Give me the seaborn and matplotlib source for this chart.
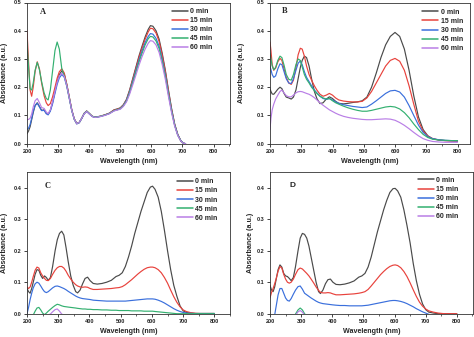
import numpy as np
import pandas as pd
import matplotlib
matplotlib.use("Agg")
import matplotlib.pyplot as plt
from matplotlib.ticker import MultipleLocator
import seaborn as sns

# ---------------- data ----------------
times = ["0 min", "15 min", "30 min", "45 min", "60 min"]
colors = ["#4a4a4a", "#e8423c", "#3a6fdc", "#33b070", "#b97ee6"]

# Panel A
wl_a = [200, 205, 210, 215, 220, 226, 233, 240, 247, 255, 262, 268, 275, 282, 290, 297, 304, 312, 320, 328,
        336, 344, 352, 360, 368, 376, 384, 392, 400, 410, 420, 435, 450, 465, 480, 490, 500, 510, 520, 530,
        540, 550, 560, 570, 580, 590, 597, 605, 615, 625, 635, 645, 655, 665, 675, 685, 695, 703, 710]
a_0 = [0.035, 0.045, 0.06, 0.085, 0.11, 0.135, 0.145, 0.132, 0.118, 0.12, 0.108, 0.104, 0.118, 0.145, 0.185,
       0.22, 0.245, 0.258, 0.245, 0.21, 0.165, 0.12, 0.088, 0.072, 0.075, 0.09, 0.108, 0.116, 0.108, 0.097,
       0.094, 0.097, 0.102, 0.108, 0.12, 0.123, 0.127, 0.138, 0.157, 0.19, 0.23, 0.27, 0.31, 0.345, 0.378,
       0.405, 0.418, 0.416, 0.4, 0.37, 0.32, 0.26, 0.19, 0.125, 0.07, 0.033, 0.01, 0.002, 0.0]
a_15 = [0.40, 0.29, 0.19, 0.168, 0.2, 0.255, 0.29, 0.265, 0.215, 0.17, 0.145, 0.135, 0.142, 0.165, 0.2,
        0.232, 0.255, 0.265, 0.25, 0.21, 0.165, 0.12, 0.088, 0.071, 0.075, 0.09, 0.107, 0.115, 0.107, 0.097,
        0.094, 0.097, 0.102, 0.108, 0.119, 0.122, 0.126, 0.137, 0.155, 0.187, 0.226, 0.265, 0.304, 0.338,
        0.37, 0.396, 0.409, 0.407, 0.392, 0.362, 0.313, 0.255, 0.186, 0.122, 0.068, 0.032, 0.01, 0.002, 0.0]
a_30 = [0.05, 0.055, 0.068, 0.09, 0.115, 0.135, 0.143, 0.13, 0.117, 0.118, 0.106, 0.102, 0.115, 0.14, 0.178,
        0.21, 0.233, 0.245, 0.235, 0.203, 0.16, 0.117, 0.086, 0.07, 0.074, 0.089, 0.106, 0.114, 0.106, 0.096,
        0.093, 0.096, 0.101, 0.107, 0.117, 0.12, 0.124, 0.135, 0.153, 0.183, 0.22, 0.258, 0.295, 0.328,
        0.358, 0.38, 0.39, 0.388, 0.373, 0.345, 0.299, 0.243, 0.178, 0.117, 0.066, 0.031, 0.01, 0.002, 0.0]
a_45 = [0.36, 0.27, 0.195, 0.19, 0.215, 0.26, 0.288, 0.262, 0.22, 0.18, 0.16, 0.155, 0.19, 0.255, 0.33,
        0.36, 0.335, 0.265, 0.24, 0.205, 0.162, 0.118, 0.087, 0.071, 0.075, 0.09, 0.107, 0.115, 0.107, 0.097,
        0.094, 0.097, 0.101, 0.107, 0.117, 0.12, 0.124, 0.134, 0.151, 0.18, 0.216, 0.252, 0.288, 0.32,
        0.35, 0.372, 0.38, 0.378, 0.364, 0.337, 0.292, 0.238, 0.175, 0.115, 0.065, 0.03, 0.01, 0.002, 0.0]
a_60 = [0.085, 0.086, 0.09, 0.105, 0.13, 0.152, 0.16, 0.145, 0.128, 0.125, 0.112, 0.106, 0.12, 0.148, 0.186,
        0.218, 0.24, 0.25, 0.238, 0.205, 0.162, 0.118, 0.087, 0.071, 0.075, 0.09, 0.106, 0.114, 0.106, 0.096,
        0.093, 0.096, 0.1, 0.106, 0.116, 0.119, 0.122, 0.132, 0.148, 0.175, 0.208, 0.242, 0.277, 0.308,
        0.335, 0.356, 0.365, 0.363, 0.35, 0.323, 0.28, 0.228, 0.167, 0.11, 0.062, 0.029, 0.009, 0.002, 0.0]

# Panel B
wl_b = [200, 203, 207, 212, 218, 225, 232, 238, 245, 252, 260, 268, 275, 283, 290, 297, 303, 310, 317, 325,
        333, 342, 350, 360, 370, 380, 390, 400, 410, 420, 435, 450, 465, 480, 495, 510, 525, 540, 555, 570,
        585, 600, 615, 630, 645, 660, 675, 690, 705, 720, 740, 760, 780, 800]
b_0 = [0.195, 0.185, 0.176, 0.175, 0.183, 0.193, 0.2, 0.195, 0.178, 0.165, 0.162, 0.158, 0.165, 0.19, 0.23,
       0.27, 0.295, 0.31, 0.305, 0.275, 0.23, 0.185, 0.16, 0.142, 0.145, 0.158, 0.166, 0.16, 0.15, 0.143,
       0.141, 0.143, 0.146, 0.148, 0.152, 0.165, 0.2, 0.25, 0.305, 0.35, 0.38, 0.394, 0.38, 0.335, 0.26,
       0.17, 0.095, 0.05, 0.028, 0.018, 0.013, 0.011, 0.01, 0.009]
b_15 = [0.36, 0.33, 0.28, 0.26, 0.268, 0.29, 0.302, 0.295, 0.265, 0.235, 0.215, 0.21, 0.225, 0.27, 0.315,
        0.338, 0.335, 0.31, 0.275, 0.245, 0.225, 0.205, 0.19, 0.175, 0.168, 0.172, 0.178, 0.172, 0.162, 0.155,
        0.151, 0.149, 0.148, 0.148, 0.15, 0.162, 0.185, 0.215, 0.245, 0.275, 0.295, 0.302, 0.292, 0.26, 0.205,
        0.14, 0.08, 0.045, 0.027, 0.018, 0.013, 0.011, 0.01, 0.009]
b_30 = [0.275, 0.262, 0.245, 0.235, 0.24, 0.265, 0.283, 0.28, 0.255, 0.23, 0.215, 0.213, 0.23, 0.26, 0.285,
        0.293, 0.28, 0.255, 0.235, 0.22, 0.205, 0.19, 0.18, 0.168, 0.16, 0.157, 0.16, 0.155, 0.148, 0.143,
        0.138, 0.135, 0.132, 0.13, 0.128, 0.13, 0.14, 0.152, 0.165, 0.178, 0.187, 0.189, 0.183, 0.165, 0.135,
        0.1, 0.066, 0.04, 0.025, 0.018, 0.014, 0.012, 0.011, 0.01]
b_45 = [0.32, 0.3, 0.275, 0.262, 0.27, 0.295, 0.31, 0.305, 0.278, 0.245, 0.228, 0.225, 0.245, 0.28, 0.3,
        0.295, 0.272, 0.245, 0.228, 0.215, 0.2, 0.188, 0.178, 0.168, 0.162, 0.158, 0.16, 0.152, 0.145, 0.14,
        0.133, 0.127, 0.122, 0.118, 0.115, 0.115, 0.118, 0.122, 0.126, 0.13, 0.132, 0.13, 0.123, 0.11, 0.092,
        0.07, 0.05, 0.033, 0.022, 0.016, 0.013, 0.012, 0.011, 0.011]
b_60 = [0.05, 0.09, 0.12, 0.14, 0.158, 0.172, 0.185, 0.19, 0.18, 0.17, 0.166, 0.166, 0.172, 0.18, 0.184,
        0.185, 0.184, 0.181, 0.178, 0.175, 0.17, 0.163, 0.155, 0.145, 0.136, 0.128, 0.12, 0.114, 0.108, 0.103,
        0.097, 0.093, 0.09, 0.088, 0.086, 0.085, 0.085, 0.086, 0.087, 0.088, 0.087, 0.083, 0.075, 0.065, 0.053,
        0.04, 0.028, 0.018, 0.012, 0.008, 0.006, 0.005, 0.005, 0.005]

# Panel C
wl_c = [200, 205, 210, 215, 220, 226, 232, 238, 244, 250, 256, 262, 268, 275, 282, 290, 297, 304, 311, 318,
        325, 332, 340, 348, 356, 362, 370, 378, 386, 394, 402, 412, 425, 440, 455, 470, 485, 495, 505, 515,
        525, 535, 545, 555, 565, 575, 585, 595, 602, 610, 620, 630, 640, 650, 660, 670, 680, 690, 700, 710,
        725, 740, 760, 780, 800]
c_0 = [0.08, 0.07, 0.065, 0.08, 0.1, 0.125, 0.14, 0.138, 0.122, 0.112, 0.12, 0.115, 0.106, 0.115, 0.15,
       0.2, 0.235, 0.255, 0.262, 0.25, 0.21, 0.165, 0.12, 0.09, 0.07, 0.066, 0.075, 0.095, 0.112, 0.116,
       0.105, 0.096, 0.094, 0.096, 0.1, 0.106, 0.118, 0.122, 0.13, 0.15, 0.18, 0.215, 0.255, 0.29, 0.325,
       0.355, 0.385, 0.402, 0.405, 0.395, 0.37, 0.325, 0.265, 0.2, 0.14, 0.09, 0.055, 0.025, 0.009, 0.004,
       0.002, 0.001, 0.001, 0.001, 0.001]
c_15 = [0.085, 0.08, 0.085, 0.1, 0.118, 0.138, 0.148, 0.145, 0.13, 0.12, 0.112, 0.106, 0.105, 0.112, 0.125,
        0.138, 0.146, 0.15, 0.15, 0.145, 0.135, 0.122, 0.11, 0.1, 0.092, 0.088, 0.085, 0.084, 0.085, 0.084,
        0.08, 0.077, 0.077, 0.078, 0.079, 0.08, 0.082, 0.083, 0.086, 0.092, 0.1, 0.108, 0.117, 0.126, 0.134,
        0.141, 0.146, 0.148, 0.148, 0.146, 0.14, 0.13, 0.115, 0.097, 0.075, 0.054, 0.036, 0.022, 0.012, 0.007,
        0.003, 0.001, 0.0, 0.0, 0.0]
c_30 = [0.0, 0.02, 0.045, 0.065, 0.082, 0.095, 0.1, 0.097, 0.088, 0.078, 0.07, 0.067, 0.07, 0.076, 0.082,
        0.087, 0.088, 0.086, 0.083, 0.08, 0.076, 0.071, 0.066, 0.061, 0.056, 0.053, 0.05, 0.048, 0.047, 0.046,
        0.045, 0.043, 0.042, 0.041, 0.04, 0.04, 0.04, 0.04, 0.04, 0.04, 0.041, 0.042, 0.043, 0.044, 0.045,
        0.046, 0.047, 0.047, 0.047, 0.046, 0.043, 0.039, 0.034, 0.028, 0.022, 0.016, 0.011, 0.007, 0.004, 0.002,
        0.001, 0.0, 0.0, 0.0, 0.0]
c_45 = [-0.03, -0.025, -0.02, -0.012, -0.004, 0.008, 0.018, 0.02, 0.012, 0.002, -0.003, 0.002, 0.008, 0.014,
        0.02, 0.026, 0.03, 0.028, 0.025, 0.023, 0.022, 0.021, 0.02, 0.019, 0.018, 0.017, 0.016, 0.015, 0.015,
        0.014, 0.014, 0.013, 0.013, 0.012, 0.012, 0.011, 0.011, 0.01, 0.01, 0.01, 0.01, 0.009, 0.009, 0.009,
        0.009, 0.008, 0.008, 0.008, 0.008, 0.007, 0.006, 0.005, 0.004, 0.003, 0.002, 0.001, 0.0, 0.0, 0.0,
        0.0, 0.0, 0.0, 0.0, 0.0, 0.0]
c_60 = [-0.03, -0.03, -0.03, -0.028, -0.025, -0.02, -0.015, -0.012, -0.01, -0.008, -0.006, -0.005, -0.004,
        -0.001, 0.006, 0.013, 0.015, 0.008, -0.001, -0.005, -0.005, -0.005, -0.005, -0.005, -0.005, -0.005,
        -0.005, -0.005, -0.005, -0.005, -0.005, -0.005, -0.005, -0.005, -0.005, -0.005, -0.005, -0.005,
        -0.005, -0.005, -0.005, -0.005, -0.005, -0.005, -0.005, -0.005, -0.005, -0.005, -0.005, -0.005,
        -0.005, -0.005, -0.005, -0.005, -0.005, -0.005, -0.005, -0.005, -0.005, -0.005, -0.005, -0.005,
        -0.005, -0.005, -0.005]

# Panel D
wl_d = [200, 205, 210, 215, 220, 226, 232, 238, 244, 250, 256, 262, 268, 275, 282, 290, 297, 304, 311, 318,
        325, 332, 340, 348, 356, 362, 370, 378, 386, 394, 402, 412, 425, 440, 455, 470, 485, 495, 505, 515,
        525, 535, 545, 555, 565, 575, 585, 595, 602, 610, 620, 630, 640, 650, 660, 670, 680, 690, 700, 710,
        725, 740, 760, 780, 800]
d_0 = [0.09, 0.075, 0.07, 0.085, 0.11, 0.14, 0.155, 0.148, 0.128, 0.12, 0.118, 0.112, 0.105, 0.115, 0.15,
       0.2, 0.24, 0.255, 0.252, 0.24, 0.215, 0.18, 0.14, 0.1, 0.07, 0.064, 0.075, 0.095, 0.108, 0.11,
       0.1, 0.093, 0.092, 0.094, 0.098, 0.104, 0.116, 0.12, 0.128, 0.148, 0.18, 0.22, 0.26, 0.295, 0.33,
       0.36, 0.385, 0.397, 0.398, 0.39, 0.37, 0.33, 0.28, 0.225, 0.16, 0.105, 0.062, 0.031, 0.013, 0.005,
       0.002, 0.0, 0.0, 0.0, 0.0]
d_15 = [0.05, 0.068, 0.08, 0.095, 0.112, 0.135, 0.15, 0.145, 0.125, 0.11, 0.1, 0.097, 0.1, 0.11, 0.125,
        0.14, 0.145, 0.142, 0.135, 0.128, 0.12, 0.11, 0.098, 0.085, 0.074, 0.068, 0.066, 0.066, 0.067, 0.066,
        0.063, 0.06, 0.06, 0.061, 0.062, 0.063, 0.065, 0.067, 0.07, 0.077, 0.088, 0.1, 0.112, 0.124, 0.134,
        0.143, 0.15, 0.154, 0.155, 0.153, 0.146, 0.134, 0.118, 0.098, 0.076, 0.055, 0.037, 0.024, 0.015, 0.009,
        0.005, 0.002, 0.0, 0.0, 0.0]
d_30 = [-0.05, -0.035, -0.02, -0.004, 0.025, 0.06, 0.08, 0.08, 0.065, 0.05, 0.042, 0.04, 0.048, 0.062,
        0.075, 0.086, 0.088, 0.078, 0.065, 0.06, 0.055, 0.05, 0.045, 0.04, 0.036, 0.034, 0.032, 0.031, 0.03,
        0.029, 0.028, 0.027, 0.026, 0.026, 0.025, 0.025, 0.025, 0.025, 0.026, 0.027, 0.029, 0.031, 0.033,
        0.035, 0.037, 0.039, 0.041, 0.042, 0.042, 0.041, 0.039, 0.036, 0.032, 0.027, 0.022, 0.016, 0.011,
        0.006, 0.002, -0.002, -0.005, -0.005, -0.005, -0.005, -0.005]
d_45 = [-0.02, -0.02, -0.02, -0.02, -0.02, -0.02, -0.02, -0.02, -0.02, -0.02, -0.02, -0.02, -0.015, -0.01,
        -0.001, 0.012, 0.018, 0.012, 0.0, -0.008, -0.01, -0.01, -0.01, -0.01, -0.01, -0.01, -0.01, -0.01,
        -0.01, -0.01, -0.01, -0.01, -0.01, -0.01, -0.01, -0.01, -0.01, -0.01, -0.01, -0.01, -0.01, -0.01,
        -0.01, -0.01, -0.01, -0.01, -0.01, -0.01, -0.01, -0.01, -0.01, -0.01, -0.01, -0.01, -0.01, -0.01,
        -0.01, -0.01, -0.01, -0.01, -0.01, -0.01, -0.01, -0.01, -0.01]
d_60 = [-0.02, -0.02, -0.02, -0.02, -0.02, -0.02, -0.02, -0.02, -0.02, -0.02, -0.02, -0.02, -0.02, -0.015,
        -0.005, 0.006, 0.01, 0.005, -0.004, -0.01, -0.01, -0.01, -0.01, -0.01, -0.01, -0.01, -0.01, -0.01,
        -0.01, -0.01, -0.01, -0.01, -0.01, -0.01, -0.01, -0.01, -0.01, -0.01, -0.01, -0.01, -0.01, -0.01,
        -0.01, -0.01, -0.01, -0.01, -0.01, -0.01, -0.01, -0.01, -0.01, -0.01, -0.01, -0.01, -0.01, -0.01,
        -0.01, -0.01, -0.01, -0.01, -0.01, -0.01, -0.01, -0.01, -0.01]

# ---------------- style ----------------
sns.set_style("ticks")
plt.rcParams["font.family"] = ["Liberation Sans", "DejaVu Sans"]
plt.rcParams["font.weight"] = "bold"
plt.rcParams["axes.labelweight"] = "bold"

W, H = 474, 337
fig = plt.figure(figsize=(W / 100, H / 100), dpi=100)


def box(l, r, t, b):
    return [l / W, 1 - b / H, (r - l) / W, (b - t) / H]


panels = [
    dict(wl=wl_a, ys=[a_0, a_15, a_30, a_45, a_60], rect=box(27, 230, 2.5, 143.7), xmax=853, ymax=0.5,
         letter="A", lfont="Liberation Serif", lpos=(0.079, 0.935), leg=(0.925, 0.975), ylx=-0.094),
    dict(wl=wl_b, ys=[b_0, b_15, b_30, b_45, b_60], rect=box(270, 470, 2.5, 143.7), xmax=840, ymax=0.5,
         letter="B", lfont="Liberation Serif", lpos=(0.075, 0.94), leg=(0.975, 0.97), ylx=-0.127),
    dict(wl=wl_c, ys=[c_0, c_15, c_30, c_45, c_60], rect=box(27, 230, 172, 313.7), xmax=850, ymax=0.45,
         letter="C", lfont="Liberation Serif", lpos=(0.103, 0.9), leg=(0.95, 0.97), ylx=-0.094),
    dict(wl=wl_d, ys=[d_0, d_15, d_30, d_45, d_60], rect=box(270, 473, 172, 313.7), xmax=852, ymax=0.45,
         letter="D", lfont="Liberation Sans", lpos=(0.113, 0.908), leg=(0.94, 0.98), ylx=-0.081),
]

palette = dict(zip(times, colors))

for p in panels:
    ax = fig.add_axes(p["rect"])
    frames = [pd.DataFrame({"Wavelength": p["wl"], "Absorbance": y, "Time": t})
              for t, y in zip(times, p["ys"])]
    df = pd.concat(frames, ignore_index=True)
    sns.lineplot(data=df, x="Wavelength", y="Absorbance", hue="Time", hue_order=times,
                 palette=palette, sort=False, estimator=None, linewidth=0.85, ax=ax)
    ax.set_xlim(200, p["xmax"])
    ax.set_ylim(0, p["ymax"])
    ax.xaxis.set_major_locator(MultipleLocator(100))
    ax.xaxis.set_minor_locator(MultipleLocator(50))
    ax.yaxis.set_major_locator(MultipleLocator(0.1))
    ax.yaxis.set_major_formatter(matplotlib.ticker.FormatStrFormatter("%.1f"))
    ax.tick_params(axis="both", which="major", direction="out", length=2.2, width=0.6,
                   labelsize=4, pad=1.5, colors="#222222")
    ax.tick_params(axis="x", which="minor", direction="out", length=1.3, width=0.5)
    for s in ax.spines.values():
        s.set_linewidth(0.6)
        s.set_color("#333333")
    ax.set_xlabel("Wavelength (nm)", fontsize=5.1, fontweight="bold")
    ax.set_ylabel("Absorbance (a.u.)", fontsize=5.1, fontweight="bold")
    ax.xaxis.set_label_coords(0.5, -0.1)
    ax.yaxis.set_label_coords(p["ylx"], 0.5)
    ax.text(p["lpos"][0], p["lpos"][1], p["letter"], transform=ax.transAxes, ha="center", va="center",
            fontsize=6, fontweight="bold", family=p["lfont"])
    leg = ax.legend(loc="upper right", bbox_to_anchor=p["leg"], frameon=False, fontsize=5,
                    handlelength=2.3, handletextpad=0.4, labelspacing=0.3, borderaxespad=0,
                    borderpad=0.3, title=None)
    for line in leg.get_lines():
        line.set_linewidth(1.1)

fig.savefig("out.png", dpi=100)
